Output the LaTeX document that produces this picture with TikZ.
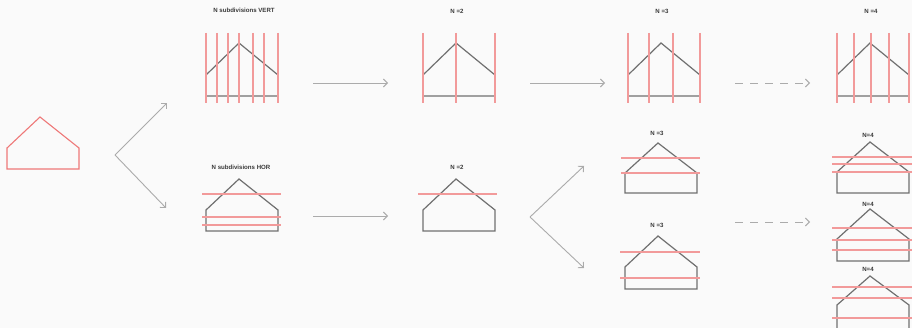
\documentclass[tikz,border=0pt]{standalone}
\usepackage{fontspec}
\setmainfont{Liberation Sans}
\usepackage{tikz}
\usetikzlibrary{arrows.meta, positioning}
\definecolor{houseline}{HTML}{707070}
\definecolor{cutline}{HTML}{F29A9A}
\definecolor{source}{HTML}{EE7878}
\definecolor{flow}{HTML}{ABABAB}
\definecolor{paper}{HTML}{FAFAFA}
\definecolor{ink}{HTML}{3A3A3A}
\tikzset{
    house/.style={draw=houseline, line width=1.2pt},
    sourcehouse/.style={draw=source, line width=1.1pt},
    cut/.style={draw=cutline, line width=1.3pt},
    tag/.style={inner sep=0pt, text=ink, font=\fontsize{6.1}{7}\selectfont\bfseries},
    arrow/.style={-{Straight Barb[length=4pt,width=8pt]}, line width=0.9pt, color=flow},
    dasharrow/.style={arrow, dash pattern=on 8pt off 7pt}
}
% house outline: left x, peak y, eave y, bottom y
\newcommand{\house}[5][house]{%
    \draw[#1] (#2,#5) -- (#2,#4) -- (#2+33,#3) -- (#2+72,#4) -- (#2+72,#5) -- cycle;}

\begin{document}
\begin{tikzpicture}[x=1pt, y=-1pt]
    \useasboundingbox (0,0) rectangle (912,328);
    \fill[paper] (0,0) rectangle (912,328);
    \clip (0,0) rectangle (912,328);

    % source
    \house[sourcehouse]{7}{117}{148}{169}

    % vertical subdivisions
    \node [tag] (vert) at (244,10) {N subdivisions VERT};
    \house{206}{43}{75}{96}
    \foreach \x in {206,217,228,239,253,264,278}
        \draw [cut] (\x,33) -- (\x,103);
    \node [tag] (vtwo) at (457,11) {N =2};
    \house{423}{43}{75}{96}
    \foreach \x in {423,456,495}
        \draw [cut] (\x,33) -- (\x,103);
    \node [tag] (vthree) at (662,11) {N =3};
    \house{628}{43}{75}{96}
    \foreach \x in {628,649,673,700}
        \draw [cut] (\x,33) -- (\x,103);
    \node [tag] (vfour) at (871,11) {N =4};
    \house{837}{43}{75}{96}
    \foreach \x in {837,854,871,889,909}
        \draw [cut] (\x,33) -- (\x,103);

    % horizontal subdivisions
    \node [tag] (hor) at (241,167) {N subdivisions HOR};
    \house{206}{179}{210}{231}
    \foreach \y in {194,217,225}
        \draw [cut] (202,\y) -- (281,\y);
    \node [tag] (htwo) at (457,167) {N =2};
    \house{423}{179}{210}{231}
    \draw [cut] (418,194) -- (497,194);
    \node [tag] (hthreea) at (657,133) {N =3};
    \house{625}{143}{173}{193}
    \foreach \y in {158,173}
        \draw [cut] (621,\y) -- (700,\y);
    \node [tag] (hthreeb) at (657,225) {N =3};
    \house{625}{236}{267}{289}
    \foreach \y in {252,278}
        \draw [cut] (620,\y) -- (700,\y);
    \node [tag] (hfoura) at (868,135) {N=4};
    \house{837}{142}{172}{193}
    \foreach \y in {157,164,172}
        \draw [cut] (832,\y) -- (912,\y);
    \node [tag] (hfourb) at (868,204) {N=4};
    \house{837}{209}{239}{261}
    \foreach \y in {228,240,250}
        \draw [cut] (832,\y) -- (912,\y);
    \node [tag] (hfourc) at (868,269) {N=4};
    \house{837}{276}{305}{332}
    \foreach \y in {287,298,318}
        \draw [cut] (832,\y) -- (912,\y);

    % flow
    \coordinate (fork) at (115,155);
    \coordinate (toVert) at (167,103);
    \coordinate (toHor) at (166,208);
    \coordinate (va) at (313,83);   \coordinate (vb) at (388,83);
    \coordinate (vc) at (530,83);   \coordinate (vd) at (605,83);
    \coordinate (ve) at (735,83);   \coordinate (vf) at (810,83);
    \coordinate (ha) at (313,216);  \coordinate (hb) at (388,216);
    \coordinate (split) at (530,217);
    \coordinate (toUp) at (584,166);
    \coordinate (toDown) at (584,268);
    \coordinate (hc) at (735,222);  \coordinate (hd) at (810,222);

    \draw [arrow] (fork) -- (toVert);
    \draw [arrow] (fork) -- (toHor);
    \draw [arrow] (va) -- (vb);
    \draw [arrow] (vc) -- (vd);
    \draw [dasharrow] (ve) -- (vf);
    \draw [arrow] (ha) -- (hb);
    \draw [arrow] (split) -- (toUp);
    \draw [arrow] (split) -- (toDown);
    \draw [dasharrow] (hc) -- (hd);
\end{tikzpicture}
\end{document}
